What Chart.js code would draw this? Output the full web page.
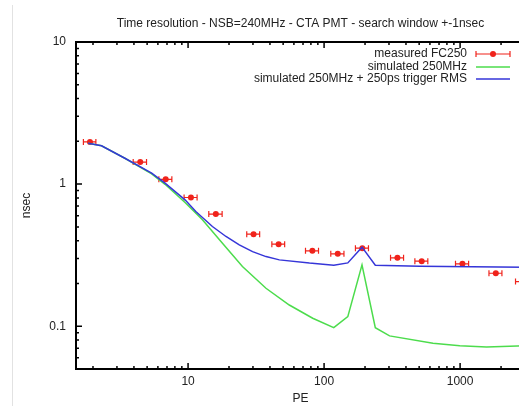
<!DOCTYPE html>
<html>
<head>
<meta charset="utf-8">
<script src="https://cdn.jsdelivr.net/npm/chart.js@4/dist/chart.umd.min.js"></script>
<style>
html, body { margin: 0; padding: 0; background: #fff; overflow: hidden; }
#wrap { position: relative; width: 601px; height: 406px; }
#edge { position: absolute; left: 12px; top: 5px; width: 1px; height: 401px; background: #e2e2e2; }
</style>
</head>
<body>
<div id="wrap"><canvas id="timeres" width="601" height="406"></canvas><div id="edge"></div></div>
<script>
// measured FC250 (PE, half width of PE error bar, time resolution)
var measPE    = [1.9, 4.45, 6.85, 10.5, 16, 30.3, 46.3, 82, 126, 191, 346, 522, 1040, 1830, 2870];
var measPEerr = [0.2, 0.5, 0.75, 1.15, 1.8, 3.3, 5, 9, 14, 21, 38, 57, 115, 200, 315];
var measNsec  = [1.98, 1.43, 1.08, 0.805, 0.615, 0.444, 0.378, 0.339, 0.323, 0.354, 0.303, 0.287, 0.275, 0.236, 0.206];

// simulated 250MHz
var simPE   = [1.84, 2.31, 3.43, 5.4, 6.77, 9.5, 12.75, 17.9, 25.1, 37.4, 55.5, 82.5, 117.8, 149.4, 190, 238, 303, 632, 995, 1565, 3000];
var simNsec = [1.94, 1.86, 1.52, 1.18, 0.997, 0.742, 0.561, 0.384, 0.263, 0.185, 0.141, 0.1138, 0.0977, 0.1168, 0.27, 0.0977, 0.0855, 0.0759, 0.0728, 0.0715, 0.0728];

// simulated 250MHz + 250ps trigger RMS
var trigPE   = [1.84, 2.31, 3.43, 5.4, 6.77, 9.5, 11.4, 15.1, 19.0, 23.8, 29.8, 37.4, 46.9, 78, 117.8, 149.4, 190, 238, 505, 3000];
var trigNsec = [1.94, 1.86, 1.52, 1.195, 1.016, 0.775, 0.641, 0.503, 0.428, 0.374, 0.335, 0.309, 0.293, 0.278, 0.269, 0.279, 0.36, 0.269, 0.264, 0.26];

// labelled ticks
var xTickVals = [10, 100, 1000];
var yTickVals = [0.1, 1, 10];

var RED = '#f0231b', GREEN = '#4cdc4c', BLUE = '#3535d8';
var FONT = "'Liberation Sans', Arial, Helvetica, sans-serif";

function toPoints(xs, ys) {
    return xs.map(function(x, i) { return { x: x, y: ys[i] }; });
}

// 1..9 ticks per decade, major on the powers of ten
function decadeTicks(scale) {
    var out = [];
    var e0 = Math.floor(Math.log10(scale.min)), e1 = Math.ceil(Math.log10(scale.max));
    for (var e = e0; e <= e1; e++) {
        for (var m = 1; m <= 9; m++) {
            var v = m * Math.pow(10, e);
            if (v >= scale.min * 0.999 && v <= scale.max * 1.001) out.push({ value: v, major: m === 1 });
        }
    }
    scale.ticks = out;
}

function labelFrom(list) {
    return function(value) {
        for (var i = 0; i < list.length; i++) {
            if (Math.abs(value - list[i]) < list[i] * 1e-6) return String(list[i]);
        }
        return '';
    };
}

// gnuplot style frame with inward ticks on bottom, top and left
var framePlugin = {
    id: 'frame',
    afterDraw: function(chart) {
        var ctx = chart.ctx, a = chart.chartArea;
        var xs = chart.scales.x, ys = chart.scales.y;
        ctx.save();
        ctx.strokeStyle = '#000';
        ctx.lineWidth = 2;
        ctx.strokeRect(a.left, a.top, a.right - a.left, a.bottom - a.top);
        ctx.lineWidth = 1.5;
        ctx.beginPath();
        xs.ticks.forEach(function(t) {
            var px = xs.getPixelForValue(t.value);
            var len = t.major ? 6 : 3;
            ctx.moveTo(px, a.bottom); ctx.lineTo(px, a.bottom - len);
            ctx.moveTo(px, a.top); ctx.lineTo(px, a.top + len);
        });
        ys.ticks.forEach(function(t) {
            var py = ys.getPixelForValue(t.value);
            var len = t.major ? 6 : 3;
            ctx.moveTo(a.left, py); ctx.lineTo(a.left + len, py);
        });
        ctx.stroke();
        ctx.restore();
    }
};

// horizontal error bars of the measured points
var errorBarPlugin = {
    id: 'xerr',
    beforeDatasetsDraw: function(chart) {
        var ctx = chart.ctx, a = chart.chartArea;
        var xs = chart.scales.x, ys = chart.scales.y;
        ctx.save();
        ctx.beginPath();
        ctx.rect(a.left, a.top, a.right - a.left, a.bottom - a.top);
        ctx.clip();
        ctx.strokeStyle = RED;
        ctx.lineWidth = 1.2;
        ctx.beginPath();
        measPE.forEach(function(pe, i) {
            var x0 = xs.getPixelForValue(pe - measPEerr[i]);
            var x1 = xs.getPixelForValue(pe + measPEerr[i]);
            var py = ys.getPixelForValue(measNsec[i]);
            ctx.moveTo(x0, py); ctx.lineTo(x1, py);
            ctx.moveTo(x0, py - 3); ctx.lineTo(x0, py + 3);
            ctx.moveTo(x1, py - 3); ctx.lineTo(x1, py + 3);
        });
        ctx.stroke();
        ctx.restore();
    }
};

// key in the top right corner, text right aligned, sample on the right
var keyPlugin = {
    id: 'key',
    afterDraw: function(chart) {
        var ctx = chart.ctx;
        var textX = 467, s0 = 476, s1 = 510, rowY = [54, 67, 79];
        var items = [chart.data.datasets[0], chart.data.datasets[1], chart.data.datasets[2]];
        ctx.save();
        ctx.font = '12px ' + FONT;
        ctx.textAlign = 'right';
        ctx.textBaseline = 'middle';
        items.forEach(function(ds, i) {
            var y = rowY[i];
            ctx.fillStyle = '#222';
            ctx.fillText(ds.label, textX, y);
            ctx.strokeStyle = ds.borderColor;
            ctx.lineWidth = ds.borderWidth || 1.2;
            ctx.beginPath();
            ctx.moveTo(s0, y); ctx.lineTo(s1, y);
            if (i === 0) {
                ctx.moveTo(s0, y - 3); ctx.lineTo(s0, y + 3);
                ctx.moveTo(s1, y - 3); ctx.lineTo(s1, y + 3);
            }
            ctx.stroke();
            if (i === 0) {
                ctx.fillStyle = RED;
                ctx.beginPath();
                ctx.arc((s0 + s1) / 2, y, 3, 0, Math.PI * 2);
                ctx.fill();
            }
        });
        ctx.restore();
    }
};

var ctx = document.getElementById('timeres').getContext('2d');
new Chart(ctx, {
    type: 'line',
    data: {
        datasets: [{
            label: 'measured FC250',
            data: toPoints(measPE, measNsec),
            showLine: false,
            borderColor: RED,
            borderWidth: 1.2,
            backgroundColor: RED,
            pointRadius: 3,
            pointBorderWidth: 0,
            pointBackgroundColor: RED,
            order: 3
        }, {
            label: 'simulated 250MHz',
            data: toPoints(simPE, simNsec),
            borderColor: GREEN,
            borderWidth: 1.5,
            pointRadius: 0,
            tension: 0,
            fill: false,
            order: 2
        }, {
            label: 'simulated 250MHz + 250ps trigger RMS',
            data: toPoints(trigPE, trigNsec),
            borderColor: BLUE,
            borderWidth: 1.5,
            pointRadius: 0,
            tension: 0,
            fill: false,
            order: 1
        }]
    },
    options: {
        responsive: false,
        animation: false,
        devicePixelRatio: 1,
        events: [],
        layout: { padding: 0 },
        plugins: {
            legend: { display: false },
            tooltip: { enabled: false },
            title: {
                display: true,
                text: 'Time resolution - NSB=240MHz - CTA PMT - search window +-1nsec',
                color: '#222',
                font: { family: FONT, size: 12, weight: 'normal', lineHeight: 1.2 },
                padding: { top: 16, bottom: 11.6 }
            }
        },
        scales: {
            x: {
                type: 'logarithmic',
                position: 'bottom',
                min: 1.5,
                max: 3000,
                afterBuildTicks: decadeTicks,
                afterFit: function(scale) { scale.height = 37; },
                grid: { display: false, drawTicks: false },
                border: { display: false },
                ticks: {
                    autoSkip: false,
                    maxRotation: 0,
                    padding: 5,
                    color: '#222',
                    font: { family: FONT, size: 12 },
                    callback: labelFrom(xTickVals)
                },
                title: {
                    display: true,
                    text: 'PE',
                    color: '#222',
                    font: { family: FONT, size: 12, lineHeight: 1.2 },
                    padding: { top: 0, bottom: 0 }
                }
            },
            y: {
                type: 'logarithmic',
                position: 'left',
                min: 0.05,
                max: 10,
                afterBuildTicks: decadeTicks,
                afterFit: function(scale) { scale.width = 76; },
                grid: { display: false, drawTicks: false },
                border: { display: false },
                ticks: {
                    autoSkip: false,
                    padding: 10,
                    color: '#222',
                    font: { family: FONT, size: 12 },
                    callback: labelFrom(yTickVals)
                },
                title: {
                    display: true,
                    text: 'nsec',
                    color: '#222',
                    font: { family: FONT, size: 12, lineHeight: 1.2 },
                    padding: { top: 19, bottom: 0 }
                }
            },
            // empty right hand box, keeps the plot centred like the original page
            yR: {
                type: 'linear',
                position: 'right',
                afterFit: function(scale) { scale.width = 76; },
                grid: { display: false, drawTicks: false },
                border: { display: false },
                ticks: { display: false }
            }
        }
    },
    plugins: [errorBarPlugin, framePlugin, keyPlugin]
});
</script>
</body>
</html>
